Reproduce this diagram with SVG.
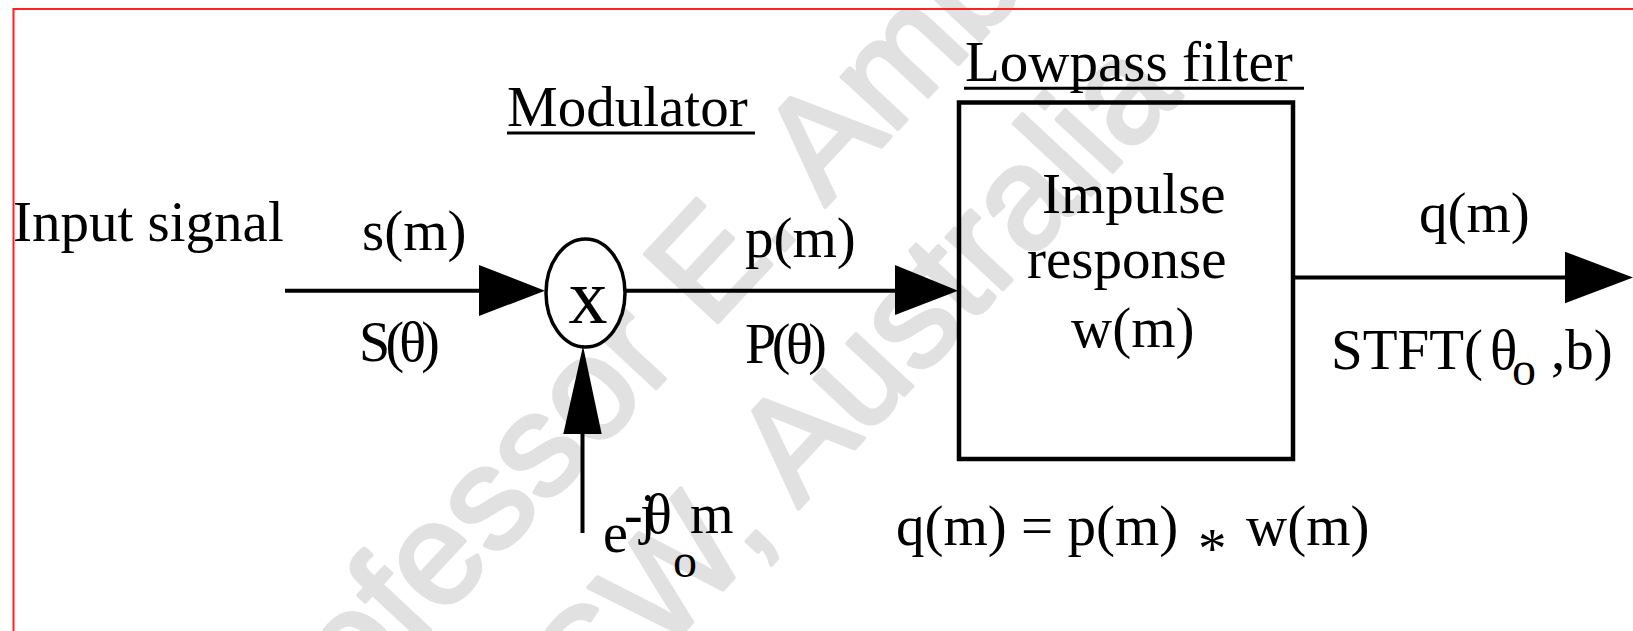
<svg xmlns="http://www.w3.org/2000/svg" width="1633" height="631" viewBox="0 0 1633 631">
<style>
text { font-family: "Liberation Serif", "Times New Roman", serif; font-size: 57px; fill: #000; }
text.wm { font-family: "Liberation Sans", Arial, sans-serif; font-size: 145px; fill: #e1e1e1; stroke: #e1e1e1; stroke-width: 4; stroke-linejoin: round; }
text.big { font-size: 78px; }
text.sym { font-size: 56px; }
text.sub, tspan.sub { font-size: 48px; }
.ln { stroke: #000; stroke-width: 4; fill: none; }
.ul { stroke: #000; stroke-width: 3; }
.ah { fill: #000; stroke: none; }
</style>
<rect x="0" y="0" width="1633" height="631" fill="#fff"/>
<g id="watermark">
<text class="wm" transform="translate(259,814) rotate(-47)">Professor E. Ambikairajah</text>
<text class="wm" transform="translate(452,880) rotate(-47)">UNSW, Australia</text>
</g>
<rect id="frame" x="13.5" y="9" width="1700" height="700" fill="none" stroke="#ff2020" stroke-width="2"/>
<g id="connectors">
<line class="ln" x1="285" y1="290.7" x2="480" y2="290.7"/>
<polygon class="ah" points="479,265 479,316 545,290.7"/>
<line class="ln" x1="625" y1="290.7" x2="897" y2="290.7"/>
<polygon class="ah" points="895,265 895,315 958,290.7"/>
<line class="ln" x1="1293" y1="277.5" x2="1566" y2="277.5"/>
<polygon class="ah" points="1565,251.7 1565,303.3 1633,277.5"/>
<line class="ln" x1="582.5" y1="533" x2="582.5" y2="433"/>
<polygon class="ah" points="563.3,434 601.7,434 583,346"/>
</g>
<g id="modulator">
<ellipse cx="585.5" cy="293" rx="39.5" ry="54" fill="#fff" stroke="#000" stroke-width="3.5"/>
<text class="big" x="588" y="323" text-anchor="middle">x</text>
<text x="507" y="126">Modulator</text>
<line class="ul" x1="507" y1="133" x2="755" y2="133"/>
</g>
<g id="filter">
<rect x="959" y="102.5" width="334" height="356.5" fill="none" stroke="#000" stroke-width="4.5"/>
<text x="965" y="81">Lowpass filter</text>
<line class="ul" x1="964" y1="88.3" x2="1304" y2="88.3"/>
<text x="1042" y="213">Impulse</text>
<text x="1027" y="278">response</text>
<text x="1071" y="347">w(m)</text>
</g>
<g id="labels">
<text x="13" y="241">Input signal</text>
<text x="362" y="250">s(m)</text>
<text class="sym" x="359" y="361" textLength="81" lengthAdjust="spacing">S(θ)</text>
<text x="745" y="257">p(m)</text>
<text class="sym" x="745" y="363" textLength="82" lengthAdjust="spacing">P(θ)</text>
<text x="1419" y="232">q(m)</text>
<text y="369"><tspan x="1331">STFT(</tspan><tspan x="1490">θ</tspan><tspan x="1512" y="385" class="sub">o</tspan><tspan x="1551" y="369">,b)</tspan></text>
<text class="sym" x="603" y="552">e</text>
<text class="sym" y="533"><tspan x="624">-</tspan><tspan x="640">j</tspan><tspan x="645">θ</tspan></text>
<text class="sub" x="673" y="577">o</text>
<text class="sym" x="690" y="533">m</text>
<text x="896" y="545">q(m) = p(m)</text>
<text x="1198" y="568">*</text>
<text x="1246" y="545">w(m)</text>
</g>
</svg>
